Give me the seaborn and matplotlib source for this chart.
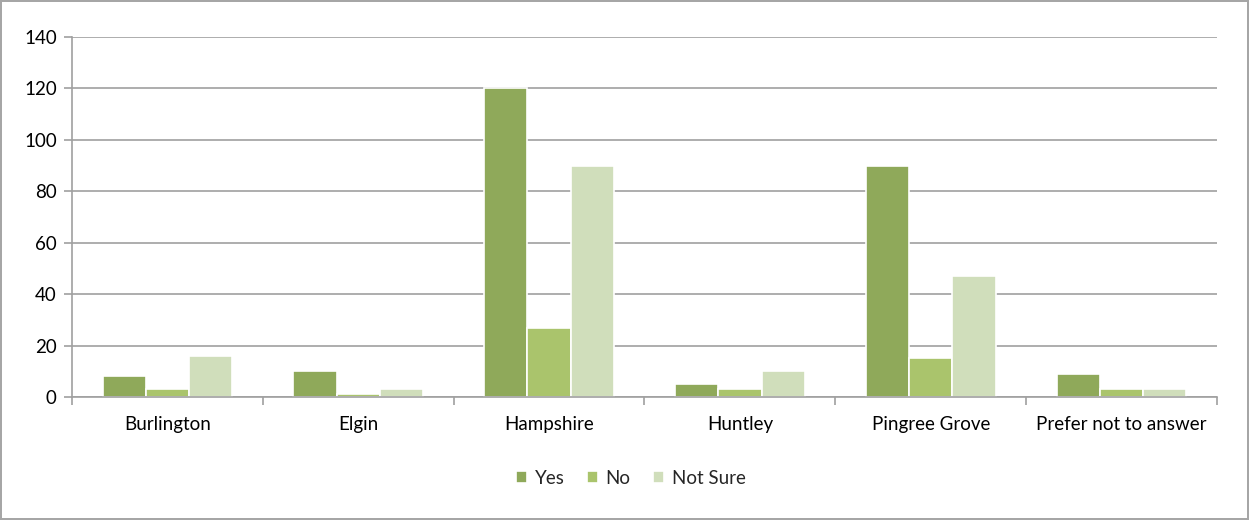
import pandas as pd
import numpy as np
import matplotlib
matplotlib.use("Agg")
import matplotlib.pyplot as plt
import matplotlib.ticker as ticker
import seaborn as sns

# chart data
towns = ["Burlington", "Elgin", "Hampshire", "Huntley", "Pingree Grove", "Prefer not to answer"]
answers = ["Yes", "No", "Not Sure"]
yes_vals = [8, 10, 120, 5, 90, 9]
no_vals = [3, 1, 27, 3, 15, 3]
notsure_vals = [16, 3, 90, 10, 47, 3]

colors = ["#8FA95A", "#AAC46C", "#D0DEBB"]

df = pd.DataFrame({"town": towns, "Yes": yes_vals, "No": no_vals, "Not Sure": notsure_vals})
df = df.melt(id_vars="town", var_name="answer", value_name="count")

sns.set_theme(style="white")
plt.rcParams["font.family"] = ["Lato", "DejaVu Sans"]

fig = plt.figure(figsize=(12.49, 5.2), dpi=100)
fig.patch.set_edgecolor("#A6A6A6")
fig.patch.set_linewidth(1.5)
ax = fig.add_axes([72 / 1249, 1 - 397 / 520, (1217 - 72) / 1249, 360 / 520])

sns.barplot(data=df, x="town", y="count", hue="answer", hue_order=answers,
            palette=colors, width=0.68, saturation=1, edgecolor="white",
            linewidth=1.2, ax=ax, legend=True)

ax.set_ylim(0, 140)
ax.set_xlim(-0.5, len(towns) - 0.5)
ax.yaxis.set_major_locator(ticker.MultipleLocator(20))
ax.grid(axis="y", color="#A0A0A0", linewidth=1.2)
ax.set_axisbelow(True)
for side in ["top", "right"]:
    ax.spines[side].set_visible(False)
for side in ["left", "bottom"]:
    ax.spines[side].set_color("#A0A0A0")
    ax.spines[side].set_linewidth(1.2)

ax.set_xlabel("")
ax.set_ylabel("")
ax.tick_params(axis="y", length=6, width=1.2, color="#A0A0A0", left=True,
               labelsize=13.5, pad=5, labelcolor="black")
ax.tick_params(axis="x", which="major", length=0, labelsize=13.5, pad=14, labelcolor="black")
ax.set_xticks(np.arange(-0.5, len(towns)), minor=True)
ax.tick_params(axis="x", which="minor", length=6, width=1.2, color="#A0A0A0", bottom=True)

handles, labels = ax.get_legend_handles_labels()
ax.get_legend().remove()
fig.legend(handles, labels, loc="center", bbox_to_anchor=(0.505, 1 - 478 / 520), ncol=3,
           frameon=False, fontsize=13.5, handlelength=0.6, handleheight=0.6,
           handletextpad=0.4, columnspacing=1.2)

fig.savefig("out.png", dpi=100)
